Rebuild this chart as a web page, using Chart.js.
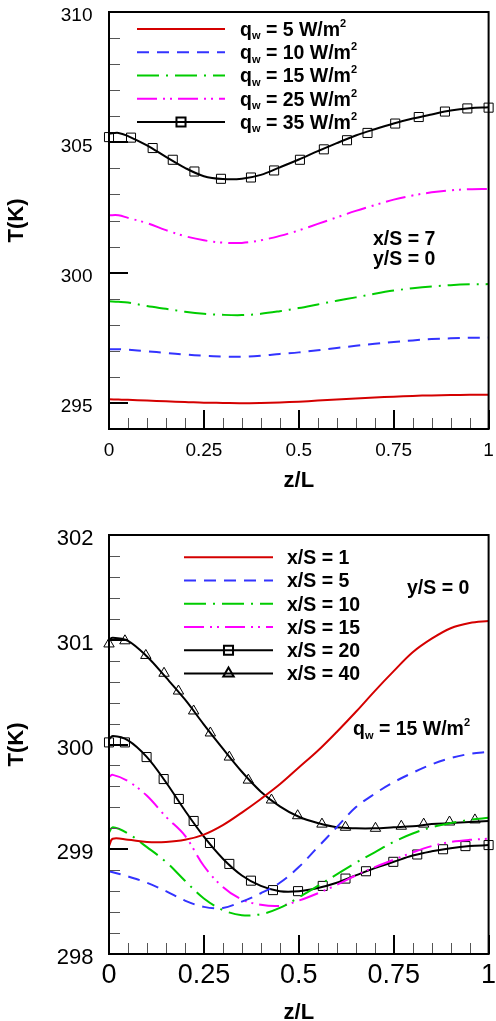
<!DOCTYPE html>
<html>
<head>
<meta charset="utf-8">
<script src="https://cdn.jsdelivr.net/npm/chart.js@4/dist/chart.umd.min.js"></script>
<style>
  html, body { margin: 0; padding: 0; background: #fff; }
  #wrap { position: relative; width: 496px; height: 1021px; overflow: hidden; }
  #topChart { position: absolute; left: 0; top: 0; }
  #bottomChart { position: absolute; left: 0; top: 500px; }
</style>
</head>
<body>
<div id="wrap">
  <canvas id="topChart" width="496" height="500"></canvas>
  <canvas id="bottomChart" width="496" height="521"></canvas>
</div>
<script>
// ---- upper panel: x/S = 7, y/S = 0, several wall heat fluxes ----
const zTop = [0, 0.025, 0.05, 0.1, 0.15, 0.2, 0.25, 0.3, 0.35, 0.4, 0.45, 0.5, 0.55, 0.6, 0.65, 0.7, 0.75, 0.8, 0.85, 0.9, 0.95, 1];
const tQ5  = [295.14, 295.13, 295.12, 295.09, 295.06, 295.04, 295.01, 295.00, 294.99, 295.00, 295.02, 295.05, 295.09, 295.13, 295.17, 295.21, 295.24, 295.27, 295.29, 295.30, 295.31, 295.31];
const tQ10 = [297.06, 297.06, 297.04, 296.98, 296.92, 296.86, 296.81, 296.78, 296.77, 296.81, 296.88, 296.94, 297.02, 297.11, 297.19, 297.27, 297.34, 297.40, 297.45, 297.48, 297.50, 297.51];
const tQ15 = [298.90, 298.88, 298.85, 298.72, 298.61, 298.50, 298.42, 298.38, 298.37, 298.42, 298.52, 298.64, 298.78, 298.92, 299.05, 299.19, 299.31, 299.40, 299.47, 299.52, 299.55, 299.56];
const tQ25 = [302.20, 302.20, 302.10, 301.90, 301.63, 301.40, 301.24, 301.15, 301.14, 301.24, 301.41, 301.62, 301.87, 302.12, 302.37, 302.59, 302.80, 302.96, 303.08, 303.16, 303.20, 303.21];
const tQ35 = [305.33, 305.36, 305.24, 304.88, 304.44, 304.02, 303.70, 303.59, 303.60, 303.75, 304.04, 304.34, 304.66, 304.97, 305.26, 305.50, 305.72, 305.91, 306.07, 306.22, 306.31, 306.35];
// symbols on the 35 W/m2 curve
const zQ35Sym = [0, 0.058, 0.115, 0.168, 0.225, 0.295, 0.374, 0.435, 0.503, 0.566, 0.627, 0.681, 0.754, 0.816, 0.885, 0.944, 1];
const tQ35Sym = [305.20, 305.18, 304.78, 304.33, 303.88, 303.60, 303.65, 303.92, 304.33, 304.73, 305.08, 305.36, 305.72, 305.97, 306.18, 306.30, 306.33];
const qLevels = [5, 10, 15, 25, 35];

// ---- lower panel: q_w = 15 W/m2, y/S = 0, several stations ----
const zBot = [0, 0.01, 0.05, 0.1, 0.15, 0.2, 0.25, 0.3, 0.35, 0.4, 0.45, 0.5, 0.55, 0.6, 0.65, 0.7, 0.75, 0.8, 0.85, 0.9, 0.95, 1];
const tX1  = [299.03, 299.10, 299.09, 299.07, 299.07, 299.09, 299.14, 299.23, 299.35, 299.48, 299.62, 299.78, 299.94, 300.12, 300.31, 300.51, 300.70, 300.88, 301.01, 301.11, 301.16, 301.18];
const tX5  = [298.79, 298.78, 298.74, 298.68, 298.60, 298.51, 298.45, 298.44, 298.50, 298.58, 298.68, 298.83, 299.02, 299.21, 299.40, 299.53, 299.64, 299.73, 299.81, 299.87, 299.91, 299.93];
const tX10 = [299.16, 299.21, 299.15, 299.02, 298.88, 298.70, 298.53, 298.42, 298.37, 298.38, 298.44, 298.54, 298.65, 298.76, 298.87, 298.97, 299.07, 299.15, 299.21, 299.25, 299.28, 299.30];
const tX15 = [299.69, 299.71, 299.65, 299.51, 299.31, 299.13, 298.84, 298.64, 298.52, 298.47, 298.46, 298.51, 298.58, 298.66, 298.75, 298.83, 298.90, 298.97, 299.03, 299.07, 299.09, 299.10];
const tX20 = [300.05, 300.08, 300.04, 299.88, 299.64, 299.37, 299.12, 298.91, 298.75, 298.65, 298.60, 298.60, 298.63, 298.68, 298.75, 298.82, 298.88, 298.94, 298.98, 299.01, 299.03, 299.04];
const tX40 = [301.00, 301.02, 300.99, 300.84, 300.64, 300.43, 300.19, 299.96, 299.74, 299.55, 299.41, 299.31, 299.25, 299.21, 299.20, 299.20, 299.21, 299.22, 299.24, 299.25, 299.26, 299.27];
const zX20Sym = [0, 0.042, 0.099, 0.144, 0.184, 0.223, 0.266, 0.317, 0.374, 0.432, 0.498, 0.563, 0.623, 0.677, 0.749, 0.812, 0.88, 0.939, 1];
const tX20Sym = [300.02, 300.02, 299.88, 299.67, 299.48, 299.27, 299.06, 298.86, 298.70, 298.61, 298.60, 298.65, 298.72, 298.79, 298.88, 298.95, 299.00, 299.03, 299.04];
const zX40Sym = [0, 0.042, 0.097, 0.145, 0.183, 0.223, 0.267, 0.317, 0.367, 0.428, 0.497, 0.561, 0.623, 0.702, 0.770, 0.829, 0.897, 0.964];
const tX40Sym = [300.96, 300.99, 300.85, 300.68, 300.51, 300.32, 300.11, 299.88, 299.66, 299.47, 299.32, 299.24, 299.21, 299.20, 299.22, 299.24, 299.26, 299.28];
const stations = [1, 5, 10, 15, 20, 40];

const FONT = "'Liberation Sans', Arial, Helvetica, sans-serif";
const RED = '#d40000', BLUE = '#3333ff', GREEN = '#00cc00', MAGENTA = '#ff00ff', BLACK = '#000000';
const DASH = [12, 8], DASHDOT = [22, 7, 2, 7], DASHDOTDOT = [20, 6, 2, 5, 2, 6];

function pts(zs, ts) { return zs.map((z, i) => ({ x: z, y: ts[i] })); }
function onStep(v, step) { const r = v / step; return Math.abs(r - Math.round(r)) < 1e-6; }

function curve(data, color, dash, legend, marker) {
  return {
    data, showLine: true, borderColor: color, borderWidth: 2, borderDash: dash,
    pointRadius: 0, tension: 0.35, legend, marker
  };
}
function symbols(data, style, radius) {
  return {
    data, showLine: false, pointStyle: style, pointRadius: radius,
    pointBorderColor: '#000', pointBorderWidth: 1, pointBackgroundColor: 'rgba(0,0,0,0)',
    clip: false
  };
}

// inward Tecplot-style ticks and a closed frame
const tickFrame = {
  id: 'tickFrame',
  afterDatasetsDraw(chart, args, opts) {
    const { ctx, chartArea: a } = chart;
    const xs = chart.scales.x, ys = chart.scales.y;
    ctx.save();
    const seg = (x1, y1, x2, y2, major) => {
      ctx.beginPath();
      ctx.lineWidth = major ? 2 : 1;
      ctx.strokeStyle = major ? '#000' : '#555';
      ctx.moveTo(x1, y1); ctx.lineTo(x2, y2); ctx.stroke();
    };
    xs.ticks.forEach(t => {
      const major = onStep(t.value, opts.xMajor);
      const px = Math.round(xs.getPixelForValue(t.value)) + (major ? 0 : 0.5);
      seg(px, a.bottom, px, a.bottom - (major ? 19 : 11), major);
    });
    ys.ticks.forEach(t => {
      const major = onStep(t.value, opts.yMajor);
      const py = Math.round(ys.getPixelForValue(t.value)) + (major ? 0 : 0.5);
      seg(a.left, py, a.left + (major ? 19 : 11), py, major);
    });
    ctx.lineWidth = 2;
    ctx.strokeStyle = '#000';
    ctx.strokeRect(a.left, a.top, a.right - a.left, a.bottom - a.top);
    ctx.restore();
  }
};

// bold text with sub/superscripts; y is the cap-height centre
function richText(ctx, x, y, parts, size) {
  const base = y + size * 0.358;
  let cx = x;
  ctx.textBaseline = 'alphabetic';
  ctx.textAlign = 'left';
  ctx.fillStyle = '#000';
  parts.forEach(p => {
    const small = p.sub || p.sup;
    ctx.font = `bold ${small ? 11 : size}px ${FONT}`;
    const dy = p.sub ? 3.5 : p.sup ? -9 : 0;
    ctx.fillText(p.t, cx, base + dy);
    cx += ctx.measureText(p.t).width;
  });
}

const notes = {
  id: 'notes',
  afterDraw(chart, args, opts) {
    const { ctx } = chart;
    ctx.save();
    const L = opts.legend;
    let row = 0;
    chart.data.datasets.forEach(ds => {
      if (!ds.legend) return;
      const y = L.rows[row++];
      ctx.beginPath();
      ctx.setLineDash(ds.borderDash || []);
      ctx.strokeStyle = ds.borderColor;
      ctx.lineWidth = 2;
      ctx.moveTo(L.x1, y); ctx.lineTo(L.x2, y); ctx.stroke();
      ctx.setLineDash([]);
      if (ds.marker) {
        ctx.strokeStyle = '#000';
        ctx.fillStyle = 'rgba(0,0,0,0)';
        Chart.helpers.drawPoint(ctx, { pointStyle: ds.marker.style, radius: ds.marker.radius, borderWidth: 1, rotation: 0 }, (L.x1 + L.x2) / 2, y);
      }
      richText(ctx, L.tx, y, ds.legend, L.size);
    });
    (opts.texts || []).forEach(t => richText(ctx, t.x, t.y, t.parts, L.size));
    ctx.restore();
  }
};

function qParts(v) { return [{ t: 'q' }, { t: 'w', sub: true }, { t: ' = ' + v + ' W/m' }, { t: '2', sup: true }]; }
function xsParts(v) { return [{ t: 'x/S = ' + v }]; }

function axes(cfg) {
  return {
    x: {
      type: 'linear', min: 0, max: 1,
      grid: { display: false, drawTicks: false }, border: { display: false },
      ticks: {
        stepSize: 0.05, autoSkip: false, maxRotation: 0, padding: cfg.xPad,
        font: { family: FONT, size: cfg.xFont }, color: '#000',
        callback: v => onStep(v, 0.25) ? String(Math.round(v * 100) / 100) : ''
      },
      title: { display: true, text: 'z/L', color: '#000', font: { family: FONT, size: 22, weight: 'bold', lineHeight: 1 }, padding: { top: 0, bottom: cfg.xTitlePad } },
      afterFit: s => { s.height = cfg.xHeight; s.paddingLeft = 0; s.paddingRight = 0; }
    },
    y: {
      type: 'linear', min: cfg.yMin, max: cfg.yMax,
      grid: { display: false, drawTicks: false }, border: { display: false },
      ticks: {
        stepSize: cfg.yStep, autoSkip: false, padding: cfg.yPad, labelOffset: 4,
        font: { family: FONT, size: cfg.yFont }, color: '#000',
        callback: v => onStep(v, cfg.yMajor) ? String(Math.round(v)) : ''
      },
      title: { display: true, text: 'T(K)', color: '#000', font: { family: FONT, size: 22, weight: 'bold', lineHeight: 1 }, padding: { top: 6, bottom: 0 } },
      afterFit: s => { s.width = 109; s.paddingTop = 0; s.paddingBottom = 0; }
    }
  };
}

new Chart(document.getElementById('topChart'), {
  type: 'scatter',
  data: {
    datasets: [
      curve(pts(zTop, tQ5), RED, [], qParts(qLevels[0])),
      curve(pts(zTop, tQ10), BLUE, DASH, qParts(qLevels[1])),
      curve(pts(zTop, tQ15), GREEN, DASHDOT, qParts(qLevels[2])),
      curve(pts(zTop, tQ25), MAGENTA, DASHDOTDOT, qParts(qLevels[3])),
      curve(pts(zTop, tQ35), BLACK, [], qParts(qLevels[4]), { style: 'rect', radius: 6.4 }),
      symbols(pts(zQ35Sym, tQ35Sym), 'rect', 6.4)
    ]
  },
  options: {
    responsive: false, animation: false,
    layout: { padding: { left: 0, top: 12, right: 7, bottom: 0 } },
    scales: axes({ yMin: 294, yMax: 310, yStep: 1, yMajor: 5, yFont: 19, yPad: 16.5, xFont: 19, xPad: 10, xHeight: 71, xTitlePad: 8.3 }),
    plugins: {
      legend: { display: false }, tooltip: { enabled: false },
      tickFrame: { xMajor: 0.25, yMajor: 5 },
      notes: {
        legend: { x1: 137, x2: 225, tx: 240, size: 19.5, rows: [29, 52.25, 75.5, 98.75, 122] },
        texts: [
          { x: 373, y: 238.3, parts: [{ t: 'x/S = 7' }] },
          { x: 373, y: 258.5, parts: [{ t: 'y/S = 0' }] }
        ]
      }
    }
  },
  plugins: [tickFrame, notes]
});

new Chart(document.getElementById('bottomChart'), {
  type: 'scatter',
  data: {
    datasets: [
      curve(pts(zBot, tX1), RED, [], xsParts(stations[0])),
      curve(pts(zBot, tX5), BLUE, DASH, xsParts(stations[1])),
      curve(pts(zBot, tX10), GREEN, DASHDOT, xsParts(stations[2])),
      curve(pts(zBot, tX15), MAGENTA, DASHDOTDOT, xsParts(stations[3])),
      curve(pts(zBot, tX20), BLACK, [], xsParts(stations[4]), { style: 'rect', radius: 6.4 }),
      curve(pts(zBot, tX40), BLACK, [], xsParts(stations[5]), { style: 'triangle', radius: 6 }),
      symbols(pts(zX20Sym, tX20Sym), 'rect', 6.4),
      symbols(pts(zX40Sym, tX40Sym), 'triangle', 6)
    ]
  },
  options: {
    responsive: false, animation: false,
    layout: { padding: { left: 0, top: 35, right: 6, bottom: 0 } },
    scales: axes({ yMin: 298, yMax: 302, yStep: 0.2, yMajor: 1, yFont: 22, yPad: 15.5, xFont: 27, xPad: 5, xHeight: 67, xTitlePad: -2.7 }),
    plugins: {
      legend: { display: false }, tooltip: { enabled: false },
      tickFrame: { xMajor: 0.25, yMajor: 1 },
      notes: {
        legend: { x1: 184, x2: 273, tx: 287, size: 19.5, rows: [57.3, 80.5, 103.8, 127, 150.3, 173.5] },
        texts: [
          { x: 407, y: 87, parts: [{ t: 'y/S = 0' }] },
          { x: 353, y: 228.3, parts: qParts(15) }
        ]
      }
    }
  },
  plugins: [tickFrame, notes]
});
</script>
</body>
</html>
